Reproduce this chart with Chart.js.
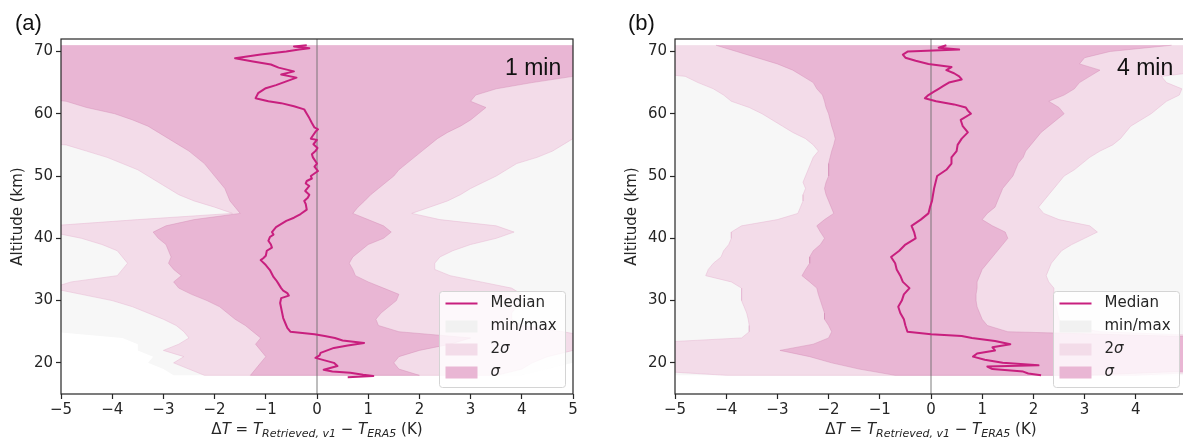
<!DOCTYPE html>
<html>
<head>
<meta charset="utf-8">
<script src="https://cdn.jsdelivr.net/npm/chart.js@4.4.1/dist/chart.umd.min.js"></script>
<style>
  html, body { margin: 0; padding: 0; background: #fff; }
  body { width: 1183px; height: 441px; overflow: hidden; position: relative; color: #262626; }
  canvas { position: absolute; top: 0; }
  #chartA { left: 0; }
  #chartB { left: 600px; }
  .panel { position: absolute; font-family: 'Liberation Sans', Arial, sans-serif; color: #111; line-height: 1; white-space: nowrap; }
  .xtitle { position: absolute; top: 420px; width: 400px; text-align: center; font-family: 'DejaVu Sans', sans-serif; font-size: 15px; line-height: 18px; white-space: nowrap; color: #262626; }
  .xtitle sub { font-size: 11px; font-style: italic; vertical-align: -3px; line-height: 0; }
</style>
</head>
<body>
<canvas id="chartA" width="590" height="441"></canvas>
<canvas id="chartB" width="600" height="441"></canvas>
<div class="panel" style="left:15px; top:12px; font-size:22px;">(a)</div>
<div class="panel" style="left:628px; top:12px; font-size:22px;">(b)</div>
<div class="panel" style="left:505px; top:56px; font-size:23px;">1 min</div>
<div class="panel" style="left:1117px; top:56px; font-size:23px;">4 min</div>
<div class="xtitle" style="left:117px;">&Delta;<i>T</i> = <i>T</i><sub>Retrieved, v1</sub> &minus; <i>T</i><sub>ERA5</sub> (K)</div>
<div class="xtitle" style="left:731px;">&Delta;<i>T</i> = <i>T</i><sub>Retrieved, v1</sub> &minus; <i>T</i><sub>ERA5</sub> (K)</div>
<script>
// axes
const xTicks = [-5, -4, -3, -2, -1, 0, 1, 2, 3, 4, 5];
const yTicks = [20, 30, 40, 50, 60, 70];
const xMin = -5, xMax = 5, yMin = 15, yMax = 72;

// altitude grid of the bands (km), top to bottom
const bandAlt = [71, 70, 69, 68, 67, 66, 65, 64, 63, 62, 61, 60, 59, 58, 57, 56, 55, 54, 53, 52,
  51, 50, 49, 48, 47, 46, 45, 44, 43, 42, 41, 40, 39, 38, 37, 36, 35, 34, 33, 32,
  31, 30, 29, 28, 27, 26, 25, 24, 23, 22, 21, 20, 19, 18];

// ---- panel (a): 1 min ----
const sigLoA = [-6, -6, -6, -6, -6, -6, -6, -6, -6,
  -4.9, -4.5, -3.95, -3.6, -3.3, -3.1, -2.9, -2.7, -2.5, -2.35,
  -2.2, -2.1, -2.0, -1.9, -1.8, -1.75, -1.7, -1.6, -1.5, -2.4,
  -2.95, -3.2, -3.1, -2.95, -2.9, -2.85, -2.9, -2.8, -2.65, -2.8,
  -2.7, -2.45, -2.15, -1.9, -1.75, -1.6, -1.4, -1.25, -1.1, -1.2,
  -1.1, -1.0, -1.1, -1.2, -1.3];
const sigHiA = [6, 6, 6, 6, 6,
  5.0, 4.2, 3.5, 3.1, 3.0, 3.3, 3.15, 3.0, 2.8, 2.55,
  2.35, 2.2, 2.05, 1.9, 1.75, 1.6, 1.5, 1.35, 1.2, 1.05,
  0.93, 0.8, 0.7, 1.0, 1.3, 1.45, 1.3, 1.0, 0.85, 0.7,
  0.63, 0.7, 0.75, 1.0, 1.3, 1.6, 1.55, 1.4, 1.25, 1.15,
  1.2, 1.6, 3.0, 2.6, 2.0, 1.6, 1.5, 1.6, 2.0];
const sig2LoA = [-7, -7, -7, -7, -7, -7, -7, -7, -7, -7, -7, -7, -7, -7, -7, -7,
  -4.9, -4.5, -4.1, -3.8, -3.5, -3.3, -3.1, -2.9, -2.7, -2.4,
  -2.0, -1.65, -3.5, -5.2, -5.2, -4.6, -4.2, -3.9, -3.8, -3.7,
  -3.8, -3.9, -4.8, -5.2, -4.6, -4.0, -3.6, -3.3, -3.0, -2.75,
  -2.6, -2.5, -2.7, -3.0, -2.6, -2.8, -2.5, -2.2];
const sig2HiA = [7, 7, 7, 7, 7, 7, 7, 7, 7, 7, 7, 7, 7, 7, 7,
  5.0, 4.8, 4.6, 4.3, 3.9, 3.7, 3.5, 3.25, 3.0, 2.8,
  2.55, 2.2, 1.85, 2.4, 3.5, 3.85, 3.5, 3.0, 2.65, 2.4,
  2.3, 2.3, 2.6, 3.2, 3.8, 4.0, 4.0, 3.9, 3.8, 3.8,
  4.0, 4.8, 5.5, 5.5, 5.0, 4.5, 4.2, 4.0, 3.5];
const mmAltA = [71, 26, 25, 24, 23, 22, 21, 20, 19, 18];
const mmLoA = [-8, -8, -5.2, -3.8, -3.5, -3.5, -3.2, -3.3, -3.0, -2.8];
const mmHiA = [8, 8, 6, 6, 6, 5.5, 5, 5, 4.5, 4];
const altMedA = [71.0, 70.8, 70.5, 70.3, 70.0, 69.5, 68.9, 68.4, 67.9, 67.4,
  66.8, 66.3, 65.8, 65.2, 64.6, 64.1, 63.3, 62.5, 62.0, 61.7,
  61.2, 60.7, 60.0, 59.3, 58.5, 57.8, 57.5, 57.2, 56.5, 56.0,
  55.8, 55.1, 54.5, 54.0, 53.5, 53.0, 52.0, 51.5, 50.8, 50.0,
  49.6, 49.2, 48.8, 48.4, 47.6, 47.0, 46.5, 46.0, 45.5, 44.6,
  43.9, 43.3, 42.8, 41.8, 41.0, 40.6, 40.2, 39.6, 39.0, 38.5,
  38.0, 37.2, 36.8, 36.5, 35.7, 34.9, 33.8, 33.3, 32.8, 32.0,
  31.6, 31.2, 30.8, 30.4, 29.6, 28.8, 28.0, 27.2, 26.4, 25.6,
  25.0, 24.6, 24.3, 24.0, 23.6, 23.2, 22.8, 22.4, 22.0, 21.6,
  21.2, 20.8, 20.4, 20.0, 19.5, 18.9, 18.6, 18.4, 18.1, 17.9,
  17.7];
const medA = [-0.2, -0.45, -0.15, -0.35, -0.6, -1.1, -1.6, -1.25, -0.9, -0.75,
  -0.45, -0.7, -0.4, -0.6, -0.8, -1.0, -1.15, -1.2, -0.95, -0.7,
  -0.45, -0.25, -0.2, -0.15, -0.1, -0.05, 0.02, -0.02, -0.08, -0.12,
  0.0, -0.07, 0.01, -0.03, -0.1, -0.08, 0.0, -0.05, 0.02, -0.12,
  -0.1, -0.2, -0.22, -0.15, -0.23, -0.15, -0.18, -0.25, -0.22, -0.2,
  -0.32, -0.45, -0.6, -0.8, -0.88, -0.85, -0.92, -0.95, -0.9, -0.88,
  -0.98, -1.0, -1.05, -1.1, -1.0, -0.92, -0.85, -0.8, -0.76, -0.7,
  -0.66, -0.58, -0.55, -0.7, -0.72, -0.7, -0.68, -0.66, -0.62, -0.58,
  -0.52, -0.05, 0.15, 0.35, 0.5, 0.92, 0.6, 0.33, 0.2, 0.07,
  0.05, -0.03, 0.15, 0.33, 0.4, 0.13, 0.3, 0.65, 0.9, 1.1,
  0.6];

// ---- panel (b): 4 min ----
const sigLoB = [-4.2, -3.8, -3.4, -3.0, -2.7, -2.5, -2.3, -2.23, -2.12, -2.08,
  -2.05, -2.0, -1.97, -1.94, -1.9, -1.87, -1.9, -1.94, -1.97, -2.0,
  -2.0, -2.0, -2.05, -2.08, -2.05, -2.0, -1.95, -1.9, -2.08, -2.23,
  -2.16, -2.08, -2.16, -2.3, -2.37, -2.37, -2.45, -2.52, -2.37, -2.23,
  -2.2, -2.16, -2.12, -2.08, -2.08, -2.0, -1.94, -2.0, -2.3, -2.95,
  -2.37, -1.94, -1.4, -0.7];
const sigHiB = [4.7, 3.5, 3.0, 2.9, 3.3, 3.1, 2.9, 2.8, 2.6, 2.3,
  2.5, 2.6, 2.45, 2.3, 2.15, 2.05, 1.95, 1.85, 1.8, 1.7,
  1.65, 1.6, 1.5, 1.4, 1.35, 1.3, 1.25, 1.1, 1.0, 1.2,
  1.45, 1.5, 1.4, 1.3, 1.2, 1.1, 1.0, 0.95, 0.9, 0.9,
  0.88, 0.88, 0.9, 0.95, 1.0, 1.1, 1.5, 6, 6, 6,
  6, 6, 6, 3];
const sig2LoB = [-6, -6, -6, -6, -6, -4.8, -4.55, -4.25, -4.05, -3.9,
  -3.55, -3.3, -3.1, -2.9, -2.7, -2.45, -2.3, -2.2, -2.3, -2.35,
  -2.4, -2.45, -2.5, -2.45, -2.5, -2.5, -2.55, -2.6, -3.0, -3.7,
  -3.9, -3.9, -3.95, -4.05, -4.1, -4.25, -4.35, -4.4, -3.9, -3.7,
  -3.7, -3.7, -3.65, -3.6, -3.57, -3.55, -3.55, -3.7, -6, -6,
  -6, -6, -6, -4];
const sig2HiB = [6, 6, 6, 6, 5.5, 4.5, 4.6, 4.9, 4.85, 4.6,
  4.45, 4.3, 4.1, 3.9, 3.8, 3.7, 3.55, 3.3, 3.1, 2.95,
  2.8, 2.6, 2.5, 2.4, 2.3, 2.2, 2.1, 2.2, 2.5, 3.1,
  3.25, 3.0, 2.75, 2.55, 2.45, 2.35, 2.3, 2.25, 2.3, 2.4,
  2.4, 2.4, 2.45, 2.47, 2.5, 2.6, 3.3, 6.5, 6.5, 6.5,
  6.5, 6.5, 6.5, 4];
const mmAltB = [71, 19, 18];
const mmLoB = [-8, -8, -5];
const mmHiB = [8, 8, 5];
const altMedB = [71.0, 70.6, 70.3, 70.0, 69.5, 69.0, 68.5, 68.0, 67.5, 67.0,
  66.5, 66.0, 65.5, 65.0, 64.5, 64.0, 63.5, 63.0, 62.5, 62.0,
  61.5, 61.0, 60.5, 60.0, 59.0, 58.0, 57.0, 56.0, 55.0, 54.0,
  53.0, 52.0, 51.0, 50.0, 49.0, 48.0, 47.0, 46.0, 45.0, 44.0,
  43.0, 42.0, 41.0, 40.0, 39.0, 38.0, 37.0, 36.0, 35.0, 34.0,
  33.0, 32.0, 31.0, 30.0, 29.0, 28.0, 27.0, 26.0, 25.0, 24.6,
  24.3, 24.0, 23.5, 23.0, 22.5, 22.0, 21.5, 21.0, 20.5, 20.0,
  19.6, 19.4, 19.0, 18.6, 18.3, 18.0];
const medB = [0.3, 0.15, 0.55, -0.45, -0.55, -0.5, -0.3, -0.05, 0.4, 0.3,
  0.45, 0.55, 0.6, 0.35, 0.25, 0.15, 0.05, -0.05, -0.12, 0.1,
  0.45, 0.68, 0.72, 0.78, 0.58, 0.62, 0.72, 0.6, 0.52, 0.5,
  0.4, 0.4, 0.3, 0.12, 0.09, 0.06, 0.04, 0.02, -0.02, -0.05,
  -0.2, -0.38, -0.33, -0.3, -0.5, -0.62, -0.78, -0.7, -0.67, -0.6,
  -0.55, -0.42, -0.53, -0.57, -0.64, -0.6, -0.53, -0.5, -0.46, 0.0,
  0.6, 0.8, 1.25, 1.55, 1.2, 1.25, 0.9, 0.82, 1.05, 1.4,
  2.1, 1.1, 1.2, 1.8, 1.9, 2.15];

// zero reference line
const zeroX = [0, 0];
const zeroAlt = [yMin, yMax];

const legendOrder = ['Median', 'min/max', '2σ', 'σ'];

const COL_MED = '#c81f7e';
const COL_SIG = '#e9b6d4';
const COL_SIG2 = '#f3dce9';
const COL_MM = '#f7f7f7';

Chart.defaults.font.family = "'DejaVu Sans', sans-serif";
Chart.defaults.font.size = 15;
Chart.defaults.color = '#262626';

function bandShape(alt, lo, hi) {
  const left = alt.map((a, i) => ({x: lo[i], y: a}));
  const right = alt.map((a, i) => ({x: hi[i], y: a})).reverse();
  return left.concat(right);
}
function profile(alt, vals) {
  return alt.map((a, i) => ({x: vals[i], y: a}));
}

const framePlugin = {
  id: 'frame',
  afterDatasetsDraw(chart) {
    const {ctx, chartArea: a} = chart;
    ctx.save();
    ctx.strokeStyle = '#262626';
    ctx.lineWidth = 1.2;
    ctx.strokeRect(a.left, a.top, a.right - a.left, a.bottom - a.top);
    ctx.restore();
  }
};

// legend box in the lower right corner, like matplotlib's
const boxLegend = {
  id: 'boxLegend',
  afterDraw(chart) {
    const {ctx, chartArea} = chart;
    const w = 126, h = 96;
    const x0 = Math.round(chartArea.right - 8 - w) + 0.5;
    const y0 = Math.round(chartArea.bottom - 7 - h) + 0.5;
    ctx.save();
    ctx.beginPath();
    if (ctx.roundRect) ctx.roundRect(x0, y0, w, h, 3); else ctx.rect(x0, y0, w, h);
    ctx.fillStyle = 'rgba(255,255,255,0.8)';
    ctx.fill();
    ctx.strokeStyle = '#d4d4d4';
    ctx.lineWidth = 1;
    ctx.stroke();
    ctx.textBaseline = 'middle';
    legendOrder.forEach((label, i) => {
      const ds = chart.data.datasets.find(d => d.label === label);
      const cy = y0 + 12 + i * 23;
      const sx = x0 + 6;
      if (label === 'Median') {
        ctx.strokeStyle = ds.borderColor;
        ctx.lineWidth = 2;
        ctx.beginPath();
        ctx.moveTo(sx, cy);
        ctx.lineTo(sx + 32, cy);
        ctx.stroke();
      } else {
        ctx.fillStyle = label === 'min/max' ? '#f1f1f1' : ds.backgroundColor;
        ctx.fillRect(sx, cy - 6, 32, 12);
      }
      let tx = x0 + 51;
      ctx.fillStyle = '#262626';
      for (const ch of label) {
        ctx.font = (ch === 'σ' ? 'italic ' : '') + "15px 'DejaVu Sans'";
        ctx.fillText(ch, tx, cy);
        tx += ctx.measureText(ch).width;
      }
    });
    ctx.restore();
  }
};

function makeChart(id, padLeft, padRight, p) {
  const tickGrid = {display: true, drawOnChartArea: false, drawTicks: true, tickLength: 5,
    tickColor: '#262626', tickWidth: 1.2};
  return new Chart(document.getElementById(id), {
    type: 'line',
    data: {
      datasets: [
        {label: 'Median', data: profile(p.medAlt, p.med), borderColor: COL_MED, borderWidth: 2,
          borderJoinStyle: 'round', fill: false, order: 0},
        {label: 'zero', data: profile(zeroAlt, zeroX), borderColor: '#6e6e6e', borderWidth: 0.9,
          fill: false, order: 1},
        {label: 'σ', data: bandShape(bandAlt, p.sigLo, p.sigHi), backgroundColor: COL_SIG,
          borderColor: 'rgba(212,140,182,0.55)', borderWidth: 0.8, fill: 'shape', order: 2},
        {label: '2σ', data: bandShape(bandAlt, p.sig2Lo, p.sig2Hi), backgroundColor: COL_SIG2,
          borderColor: 'rgba(230,182,208,0.6)', borderWidth: 0.8, fill: 'shape', order: 3},
        {label: 'min/max', data: bandShape(p.mmAlt, p.mmLo, p.mmHi), backgroundColor: COL_MM,
          borderColor: 'rgba(0,0,0,0)', borderWidth: 0, fill: 'shape', order: 4}
      ]
    },
    options: {
      responsive: false,
      animation: false,
      events: [],
      layout: {padding: {left: padLeft, right: padRight, top: 39, bottom: 0}},
      elements: {point: {radius: 0}, line: {tension: 0}},
      plugins: {legend: {display: false}, tooltip: {enabled: false}},
      scales: {
        x: {
          type: 'linear', min: xMin, max: xMax,
          afterBuildTicks: s => { s.ticks = xTicks.map(v => ({value: v})); },
          afterFit: s => { s.height = 47; },
          grid: tickGrid,
          border: {display: false},
          ticks: {padding: 2, maxRotation: 0, autoSkip: false,
            callback: v => v < 0 ? '\u2212' + Math.abs(v) : String(v)}
        },
        y: {
          type: 'linear', min: yMin, max: yMax,
          afterBuildTicks: s => { s.ticks = yTicks.map(v => ({value: v})); },
          afterFit: s => { s.width = 61; },
          grid: tickGrid,
          border: {display: false},
          ticks: {padding: 3, autoSkip: false},
          title: {display: true, text: 'Altitude (km)', font: {size: 15}, padding: {top: 9, bottom: 0}}
        }
      }
    },
    plugins: [framePlugin, boxLegend]
  });
}

makeChart('chartA', 0, 17, {
  medAlt: altMedA, med: medA, sigLo: sigLoA, sigHi: sigHiA, sig2Lo: sig2LoA, sig2Hi: sig2HiA,
  mmAlt: mmAltA, mmLo: mmLoA, mmHi: mmHiA
});
makeChart('chartB', 14, 13, {
  medAlt: altMedB, med: medB, sigLo: sigLoB, sigHi: sigHiB, sig2Lo: sig2LoB, sig2Hi: sig2HiB,
  mmAlt: mmAltB, mmLo: mmLoB, mmHi: mmHiB
});
</script>
</body>
</html>
